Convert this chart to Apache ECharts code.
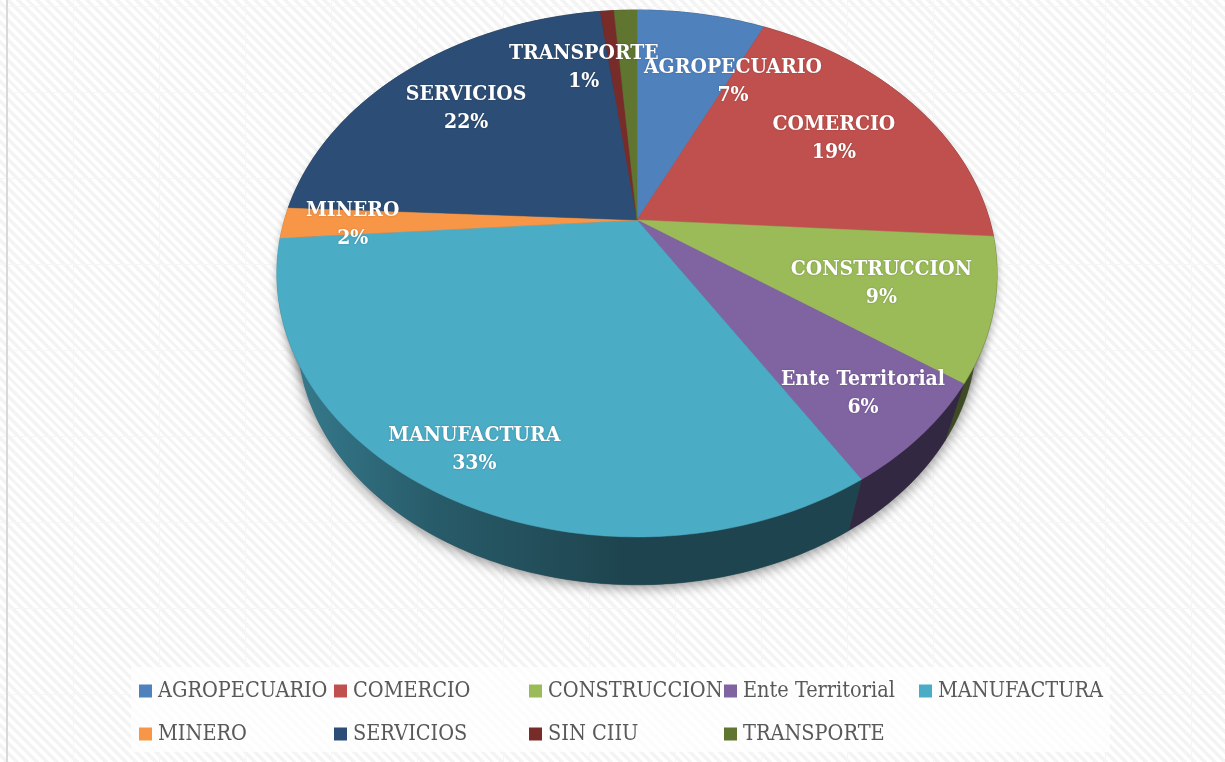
<!DOCTYPE html>
<html><head><meta charset="utf-8">
<script src="https://cdn.jsdelivr.net/npm/echarts@6/dist/echarts.min.js"></script>
<style>
html,body{margin:0;padding:0;background:#fff;overflow:hidden}
#bg{position:absolute;left:0;top:0;width:1225px;height:762px;
background-image:
 linear-gradient(90deg,#f6f6f6 1px,transparent 1px),
 linear-gradient(0deg,#f6f6f6 1px,transparent 1px),
 repeating-linear-gradient(45deg,#ffffff 0,#ffffff 3.5px,#f4f4f4 3.5px,#f4f4f4 7px);
background-size:86px 86px,86px 86px,auto;background-position:73px 0,0 7px,0 0}
#edge{position:absolute;left:6px;top:0;width:2px;height:762px;background:#d9d9d9}
#c{position:absolute;left:0;top:0;width:1225px;height:762px}
</style></head><body>
<div id="bg"></div><div id="edge"></div><div id="c"></div>
<script>
// Data
const categories = ['AGROPECUARIO','COMERCIO','CONSTRUCCION','Ente Territorial','MANUFACTURA','MINERO','SERVICIOS','SIN CIIU','TRANSPORTE'];
const shares = [7, 19, 8.7, 6.45, 32.7, 1.9, 22.2, 0.75, 1.25];
const sliceColors = ['#4f81bd','#c0504d','#9bbb59','#8064a2','#4bacc6','#f79646','#2c4d75','#772c2a','#5f7530'];
const legendColors = ['#4f81bd','#c0504d','#9bbb59','#8064a2','#4bacc6','#f79646','#2c4d75','#772c2a','#5f7530'];
// where Excel put each data label inside its slice (radius as a fraction, turn in degrees from the slice middle)
const labelRadius = [0.70, 0.695, 0.70, 0.82, 0.856, 0.805, 0.727, null, 0.72];
const labelTurn = [13.4, 0, 0, 0, 0, 0, 0, 0, -11.6];

// perspective pie geometry
const apex = {x: 637, y: 220}, A = 352.6, B = 252.6, K = 0.203;
const vanishY = 1363, depthScale = 0.942;
const total = shares.reduce((a, b) => a + b, 0);
const starts = []; shares.reduce((acc, v, i) => (starts[i] = acc, acc + v), 0);

function topPoint(frac, r) {
  const t = frac / total * 2 * Math.PI, u = (r == null ? 1 : r) * Math.sin(t), v = (r == null ? 1 : r) * Math.cos(t);
  const d = 1 + K * v;
  return [apex.x + A * u / d, apex.y - B * v / d];
}
function basePoint(p) {
  return [apex.x + (p[0] - apex.x) * depthScale, vanishY + (p[1] - vanishY) * depthScale];
}
function arc(a, b) {
  const pts = [], n = Math.max(2, Math.ceil((b - a) / total * 360));
  for (let i = 0; i <= n; i++) pts.push(topPoint(a + (b - a) * i / n));
  return pts;
}
function shade(hex) {
  const c = [1, 3, 5].map(i => parseInt(hex.substr(i, 2), 16));
  const f = m => 'rgb(' + c.map(x => Math.round(x * m)).join(',') + ')';
  return new echarts.graphic.LinearGradient(285, 0, 620, 0,
    [{offset: 0, color: f(0.72)}, {offset: 0.45, color: f(0.53)}, {offset: 1, color: f(0.40)}], true);
}

const series = [];
// soft shadow under the whole body
series.push({
  type: 'custom', name: 'sombra', coordinateSystem: 'none', silent: true, z: 1,
  data: [[0, total]],
  renderItem(p, api) {
    const ring = arc(api.value(0), api.value(1));
    return {type: 'group', children: [
      {type: 'polygon', shape: {points: ring.map(q => [q[0], q[1] + 3])},
        style: {fill: '#bbb', shadowBlur: 8, shadowColor: 'rgba(0,0,0,0.3)', shadowOffsetY: 4}},
      {type: 'polygon', shape: {points: ring.map(basePoint)},
        style: {fill: '#555', shadowBlur: 14, shadowColor: 'rgba(0,0,0,0.5)', shadowOffsetY: 2}}
    ]};
  }
});
categories.forEach((name, i) => {
  const data = [[starts[i], starts[i] + shares[i]]];
  // side wall
  series.push({
    type: 'custom', name, coordinateSystem: 'none', silent: true, z: 2, data,
    itemStyle: {color: legendColors[i]},
    renderItem(p, api) {
      const a = arc(api.value(0), api.value(1));
      const fill = shade(sliceColors[i]);
      return {type: 'polygon', shape: {points: a.concat(a.map(basePoint).reverse())},
        style: {fill, stroke: fill, lineWidth: 0.5}};
    }
  });
  // top face
  series.push({
    type: 'custom', name, coordinateSystem: 'none', silent: true, z: 3, data,
    itemStyle: {color: legendColors[i]},
    renderItem(p, api) {
      const pts = [[apex.x, apex.y]].concat(arc(api.value(0), api.value(1)));
      return {type: 'polygon', shape: {points: pts},
        style: {fill: sliceColors[i], stroke: sliceColors[i], lineWidth: 0.5}};
    }
  });
});
// data labels on top of everything
series.push({
  type: 'custom', name: 'etiquetas', coordinateSystem: 'none', silent: true, z: 4,
  data: categories.map((c, i) => [starts[i] + shares[i] / 2 + labelTurn[i] / 360 * total, shares[i]]),
  renderItem(p, api) {
    const i = p.dataIndex;
    if (labelRadius[i] == null) return null;
    const q = topPoint(api.value(0), labelRadius[i]);
    return {type: 'text', style: {
      x: q[0], y: q[1] + 2, align: 'center', verticalAlign: 'middle',
      text: categories[i] + '\n' + Math.round(api.value(1) / total * 100) + '%',
      fill: '#ffffff', font: 'bold 21px "DejaVu Serif Condensed"', lineHeight: 28,
      textShadowColor: 'rgba(0,0,0,0.25)', textShadowBlur: 2
    }};
  }
});

const colX = [139, 334, 529, 724, 919];
const legends = categories.map((name, i) => ({
  data: [name], selectedMode: false, orient: 'horizontal',
  left: colX[i < 5 ? i : i - 5], top: i < 5 ? 680 : 723, padding: 0,
  itemWidth: 13, itemHeight: 13, itemGap: 0, icon: 'rect',
  textStyle: {color: '#595959', fontFamily: 'DejaVu Serif Condensed', fontSize: 21.5, padding: [0, 0, 0, 1]}
}));

const chart = echarts.init(document.getElementById('c'), null, {renderer: 'canvas'});
chart.setOption({
  animation: false,
  backgroundColor: 'transparent',
  legend: legends,
  graphic: [{type: 'rect', silent: true, z: -1, shape: {x: 131, y: 667, width: 979, height: 85},
    style: {fill: 'rgba(255,255,255,0.75)'}}],
  series
});
</script>
</body></html>
